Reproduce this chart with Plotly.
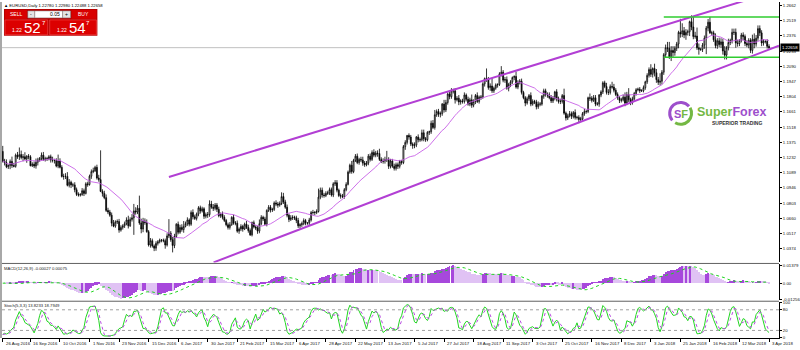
import math
import numpy as np
import pandas as pd
import plotly.graph_objects as go
from plotly.subplots import make_subplots

# ---------------- data ----------------
SYMBOL = "EURUSD,Daily"
START_DATE, END_DATE = "2016-08-26", "2018-04-03"
NO_BAR_DAYS = ["2017-12-25", "2018-01-01"]
FIRST_OPEN = 1.1290

CLOSE = [
    1.1198,
    1.1185, 1.1145, 1.1157, 1.1196, 1.1157,
    1.1150, 1.1255, 1.1240, 1.1260, 1.1232,
    1.1240, 1.1218, 1.1245, 1.1240, 1.1155,
    1.1170, 1.1153, 1.1188, 1.1208, 1.1225,
    1.1255, 1.1213, 1.1220, 1.1221, 1.1240,
    1.1210, 1.1206, 1.1206, 1.1152, 1.1200,
    1.1140, 1.1054, 1.1055, 1.1055, 1.0971,
    1.1000, 1.0975, 1.0975, 1.0930, 1.0885,
    1.0880, 1.0883, 1.0920, 1.0895, 1.0985,
    1.0978, 1.1057, 1.1100, 1.1107, 1.1140,
    1.1040, 1.1025, 1.0914, 1.0895, 1.0855,
    1.0735, 1.0720, 1.0690, 1.0615, 1.0587,
    1.0627, 1.0630, 1.0550, 1.0575, 1.0590,
    1.0610, 1.0645, 1.0590, 1.0650, 1.0665,
    1.0730, 1.0720, 1.0755, 1.0617, 1.0560,
    1.0635, 1.0620, 1.0535, 1.0410, 1.0450,
    1.0400, 1.0380, 1.0425, 1.0440, 1.0455,
    1.0455, 1.0450, 1.0410, 1.0495, 1.0520,
    1.0460, 1.0405, 1.0490, 1.0605, 1.0530,
    1.0575, 1.0555, 1.0585, 1.0610, 1.0645,
    1.0605, 1.0715, 1.0675, 1.0660, 1.0700,
    1.0760, 1.0730, 1.0750, 1.0680, 1.0695,
    1.0695, 1.0795, 1.0765, 1.0755, 1.0785,
    1.0745, 1.0685, 1.0700, 1.0670, 1.0640,
    1.0600, 1.0575, 1.0600, 1.0670, 1.0615,
    1.0615, 1.0540, 1.0560, 1.0585, 1.0560,
    1.0605, 1.0575, 1.0545, 1.0505, 1.0620,
    1.0580, 1.0570, 1.0540, 1.0610, 1.0670,
    1.0655, 1.0605, 1.0735, 1.0765, 1.0740,
    1.0745, 1.0805, 1.0795, 1.0785, 1.0800,
    1.0865, 1.0815, 1.0765, 1.0690, 1.0650,
    1.0665, 1.0670, 1.0665, 1.0640, 1.0590,
    1.0600, 1.0610, 1.0640, 1.0615, 1.0615,
    1.0645, 1.0715, 1.0715, 1.0715, 1.0725,
    1.0860, 1.0925, 1.0880, 1.0875, 1.0895,
    1.0900, 1.0930, 1.0880, 1.0985, 1.0995,
    1.0925, 1.0875, 1.0870, 1.0865, 1.0930,
    1.0980, 1.1095, 1.1160, 1.1100, 1.1205,
    1.1245, 1.1185, 1.1215, 1.1210, 1.1180,
    1.1165, 1.1180, 1.1245, 1.1215, 1.1280,
    1.1255, 1.1275, 1.1270, 1.1215, 1.1195,
    1.1200, 1.1210, 1.1215, 1.1150, 1.1200,
    1.1150, 1.1130, 1.1165, 1.1150, 1.1195,
    1.1185, 1.1335, 1.1375, 1.1440, 1.1425,
    1.1360, 1.1345, 1.1350, 1.1425, 1.1400,
    1.1400, 1.1465, 1.1410, 1.1400, 1.1470,
    1.1475, 1.1555, 1.1515, 1.1635, 1.1665,
    1.1640, 1.1645, 1.1735, 1.1680, 1.1750,
    1.1830, 1.1805, 1.1860, 1.1860, 1.1775,
    1.1790, 1.1755, 1.1765, 1.1760, 1.1820,
    1.1780, 1.1735, 1.1775, 1.1725, 1.1760,
    1.1815, 1.1760, 1.1800, 1.1800, 1.1925,
    1.1975, 1.1970, 1.1890, 1.1905, 1.1860,
    1.1885, 1.1915, 1.1920, 1.2020, 1.2035,
    1.1960, 1.1965, 1.1885, 1.1920, 1.1945,
    1.1985, 1.1995, 1.1895, 1.1940, 1.1950,
    1.1845, 1.1795, 1.1745, 1.1785, 1.1815,
    1.1735, 1.1760, 1.1755, 1.1710, 1.1735,
    1.1735, 1.1810, 1.1860, 1.1825, 1.1820,
    1.1795, 1.1765, 1.1790, 1.1850, 1.1785,
    1.1760, 1.1760, 1.1815, 1.1650, 1.1605,
    1.1625, 1.1645, 1.1620, 1.1655, 1.1610,
    1.1610, 1.1590, 1.1595, 1.1645, 1.1665,
    1.1665, 1.1795, 1.1790, 1.1770, 1.1795,
    1.1735, 1.1735, 1.1820, 1.1850, 1.1935,
    1.1900, 1.1845, 1.1845, 1.1900, 1.1895,
    1.1865, 1.1825, 1.1795, 1.1770, 1.1775,
    1.1800, 1.1745, 1.1825, 1.1775, 1.1750,
    1.1785, 1.1835, 1.1870, 1.1875, 1.1860,
    1.1860, 1.1890, 1.1945, 1.2005,
    1.2060, 1.2015, 1.2070, 1.2030,
    1.1965, 1.1940, 1.1950, 1.2035, 1.2200,
    1.2265, 1.2260, 1.2180, 1.2240, 1.2220,
    1.2260, 1.2300, 1.2410, 1.2395, 1.2425,
    1.2385, 1.2410, 1.2415, 1.2510, 1.2460,
    1.2370, 1.2375, 1.2265, 1.2250, 1.2250,
    1.2290, 1.2355, 1.2450, 1.2505, 1.2405,
    1.2405, 1.2340, 1.2285, 1.2330, 1.2295,
    1.2320, 1.2235, 1.2195, 1.2265, 1.2315,
    1.2335, 1.2410, 1.2410, 1.2310, 1.2305,
    1.2335, 1.2385, 1.2370, 1.2305, 1.2290,
    1.2335, 1.2240, 1.2345, 1.2300, 1.2355,
    1.2445, 1.2405, 1.2310, 1.2325, 1.2325,
    1.22780, 1.22658,
]

UPPER_WICK_PIPS = [
    52,
    22, 30, 12, 18, 45, 25, 15, 30, 67, 38, 25, 42, 10, 20, 15, 18, 25, 35, 22, 12,
    25, 30, 20, 18, 15, 20, 30, 15, 20, 60, 25, 20, 25, 30, 40, 30, 15, 20, 25, 20,
    20, 15, 25, 20, 15, 20, 15, 20, 30, 15, 25, 30, 275, 20, 25, 30, 25, 20, 25, 30,
    15, 20, 25, 20, 15, 20, 25, 40, 20, 35, 66, 35, 30, 119, 40, 30, 25, 30, 15, 25,
    20, 15, 20, 15, 15, 10, 15, 20, 25, 133, 20, 25, 25, 10, 25, 25, 30, 50, 20, 25,
    15, 20, 30, 20, 15, 15, 20, 20, 15, 20, 25, 35, 30, 30, 20, 20, 25, 15, 25, 20,
    15, 20, 25, 10, 25, 20, 25, 15, 20, 15, 15, 30, 25, 20, 10, 20, 15, 20, 40, 20,
    15, 20, 10, 20, 20, 15, 15, 25, 20, 20, 40, 35, 20, 25, 15, 25, 20, 15, 20, 25,
    15, 20, 20, 15, 10, 20, 15, 25, 15, 20, 80, 25, 25, 20, 20, 20, 20, 20, 15, 25,
    25, 15, 20, 20, 15, 20, 15, 15, 40, 15, 20, 25, 15, 25, 30, 20, 20, 20, 25, 20,
    30, 20, 25, 45, 20, 25, 30, 80, 20, 20, 20, 25, 20, 20, 15, 15, 15, 20, 5, 20,
    20, 15, 25, 10, 25, 20, 30, 30, 15, 10, 10, 25, 30, 45, 20, 25, 20, 10, 40, 25,
    15, 25, 25, 20, 25, 20, 30, 15, 20, 25, 15, 25, 20, 50, 20, 15, 30, 15, 20, 15,
    10, 95, 20, 25, 75, 15, 15, 10, 15, 57, 20, 25, 30, 15, 15, 10, 10, 45, 20, 20,
    25, 15, 15, 20, 15, 30, 20, 15, 20, 25, 20, 10, 20, 20, 20, 25, 25, 20, 10, 25,
    20, 25, 15, 65, 15, 20, 25, 20, 15, 30, 15, 20, 20, 15, 25, 15, 10, 40, 20, 25,
    25, 20, 10, 15, 15, 20, 35, 30, 20, 45, 30, 20, 20, 15, 20, 25, 45, 25, 60, 20,
    20, 15, 15, 15, 20,
    15, 20, 10, 20,
    20, 50, 10, 45,
    35, 25, 75, 20, 15, 30, 55, 60, 40, 40, 20, 20, 15, 127, 70, 35, 30, 20, 10, 60,
    100, 40, 80, 40, 15, 20, 25, 20, 30, 50, 20, 20, 60, 25, 30, 35, 30, 45, 15, 35,
    15, 35, 35, 36, 30, 10, 20, 25, 20, 30, 20, 20, 43, 55, 30, 30, 30, 25, 20, 10,
    20, 20,
]

LOWER_WICK_PIPS = [
    13,
    27, 13, 20, 34, 22, 10, 13, 20, 30, 17, 35, 8, 35, 25, 5, 12, 20, 25, 30, 15,
    20, 12, 18, 20, 15, 25, 20, 30, 12, 20, 10, 10, 30, 25, 10, 20, 30, 20, 25, 15,
    15, 15, 10, 25, 10, 20, 10, 25, 15, 10, 15, 20, 7, 30, 15, 15, 20, 15, 30, 10,
    15, 20, 25, 15, 20, 20, 15, 25, 10, 20, 160, 25, 20, 17, 40, 30, 20, 10, 15, 25,
    15, 28, 25, 20, 15, 20, 15, 35, 15, 20, 20, 65, 25, 15, 20, 15, 20, 30, 10, 20,
    20, 15, 25, 15, 20, 20, 25, 15, 25, 20, 30, 20, 15, 25, 20, 25, 15, 20, 20, 15,
    15, 20, 20, 10, 15, 20, 15, 25, 20, 25, 10, 15, 20, 10, 15, 15, 20, 25, 20, 15,
    20, 10, 20, 15, 25, 20, 15, 20, 25, 15, 15, 20, 15, 20, 25, 15, 20, 20, 25, 20,
    25, 20, 15, 20, 15, 20, 15, 20, 25, 15, 10, 20, 25, 20, 15, 15, 20, 15, 20, 20,
    20, 15, 25, 15, 20, 15, 10, 15, 20, 15, 15, 15, 20, 20, 25, 20, 15, 20, 20, 15,
    20, 20, 30, 15, 15, 20, 25, 20, 25, 20, 15, 20, 20, 25, 20, 20, 15, 30, 20, 25,
    20, 30, 25, 20, 25, 20, 15, 25, 20, 15, 25, 20, 15, 20, 20, 25, 30, 20, 25, 20,
    20, 25, 20, 25, 35, 15, 30, 25, 20, 20, 20, 15, 20, 25, 20, 25, 15, 20, 25, 15,
    25, 25, 20, 30, 20, 20, 15, 25, 15, 25, 20, 25, 15, 30, 25, 20, 25, 15, 20, 20,
    20, 15, 30, 15, 20, 20, 15, 20, 25, 20, 20, 15, 25, 20, 25, 15, 20, 20, 20, 25,
    20, 25, 20, 15, 25, 20, 15, 25, 20, 20, 20, 35, 20, 15, 20, 20, 15, 25, 20, 15,
    20, 15, 25, 20, 20, 15, 20, 25, 20, 15, 20, 15, 20, 25, 20, 15, 30, 20, 20, 25,
    20, 15, 20, 15, 20,
    10, 15, 20, 20,
    20, 25, 30, 35,
    30, 25, 30, 30, 25, 30, 35, 20, 40, 40, 30, 25, 40, 35, 30, 30, 45, 30, 40, 30,
    25, 20, 20, 50, 15, 25, 35, 150, 30, 10, 25, 20, 25, 30, 25, 30, 35, 40, 40, 25,
    25, 30, 25, 45, 30, 25, 20, 35, 25, 20, 30, 25, 30, 40, 25, 25, 30, 30, 25, 20,
    20, 17,
]

MA_PERIOD = 20
MACD_FAST, MACD_SLOW, MACD_SIGNAL = 12, 26, 9
STOCH_K, STOCH_D, STOCH_SLOW = 5, 3, 3
STOCH_LEVELS = [20, 80]

# drawn objects (bar index, price)
UPPER_TREND_X = [90.0, 420.4]
UPPER_TREND_Y = [1.1050, 1.2807]
LOWER_TREND_X = [114.2, 420.4]
LOWER_TREND_Y = [1.0246, 1.2284]
BOX_X = [358, 420.4]
BOX_TOP, BOX_BOTTOM = 1.2555, 1.2175

MAIN_TICKS = [1.2662, 1.2519, 1.2376, 1.2233, 1.2090, 1.1947, 1.1804, 1.1661,
              1.1518, 1.1375, 1.1232, 1.1089, 1.0946, 1.0803, 1.0660, 1.0517, 1.0374]
STOCH_TICKS = [0, 20, 80, 100]

LOT = "0.05"
SELL_QUOTE = ("1.22", "52", "7")
BUY_QUOTE = ("1.22", "54", "7")

# ---------------- derived series ----------------
close = np.array(CLOSE)
n = len(close)
idx = np.arange(n)
open_ = np.r_[FIRST_OPEN, close[:-1]]
high = np.maximum(open_, close) + np.array(UPPER_WICK_PIPS) / 1e4
low = np.minimum(open_, close) - np.array(LOWER_WICK_PIPS) / 1e4

dates = pd.bdate_range(START_DATE, END_DATE)
dates = dates[~dates.isin(pd.to_datetime(NO_BAR_DAYS))][:n]
tick_idx = [0] + list(range(15, n, 16))
tick_txt = [f"{dates[i].day} {dates[i].strftime('%b %Y')}" for i in tick_idx]

cs = pd.Series(close)
ma = cs.rolling(MA_PERIOD, min_periods=1).mean()
macd = cs.ewm(span=MACD_FAST, adjust=False).mean() - cs.ewm(span=MACD_SLOW, adjust=False).mean()
signal = macd.rolling(MACD_SIGNAL, min_periods=1).mean()
macd_col = ['#a748dc' if (i == 0 or macd[i] >= macd[i - 1]) else '#e0c2f4' for i in range(n)]

hs, ls = pd.Series(high), pd.Series(low)
ll = ls.rolling(STOCH_K, min_periods=1).min()
hh = hs.rolling(STOCH_K, min_periods=1).max()
stk = 100 * (cs - ll).rolling(STOCH_SLOW, min_periods=1).sum() / (hh - ll).rolling(STOCH_SLOW, min_periods=1).sum()
std = stk.rolling(STOCH_D, min_periods=1).mean()

# ---------------- figure ----------------
L_PX, R_PX, T_PX, B_PX = 2, 784, 0, 338


def px(x):
    return (x - L_PX) / (R_PX - L_PX)


def py(y):
    return (B_PX - y) / (B_PX - T_PX)


fig = make_subplots(rows=3, cols=1, shared_xaxes=True, vertical_spacing=0)

fig.add_trace(go.Candlestick(
    x=idx, open=open_, high=high, low=low, close=close,
    increasing=dict(line=dict(color='black', width=0.8), fillcolor='white'),
    decreasing=dict(line=dict(color='black', width=0.8), fillcolor='black'),
    whiskerwidth=0, hoverinfo='skip'), row=1, col=1)
fig.add_trace(go.Scatter(x=idx, y=ma, mode='lines', line=dict(color='#c760e6', width=0.9),
                         hoverinfo='skip'), row=1, col=1)
for tx, ty in [(UPPER_TREND_X, UPPER_TREND_Y), (LOWER_TREND_X, LOWER_TREND_Y)]:
    fig.add_trace(go.Scatter(x=tx, y=ty, mode='lines', line=dict(color='#b23fd4', width=2),
                             hoverinfo='skip'), row=1, col=1)
for level in (BOX_TOP, BOX_BOTTOM):
    fig.add_trace(go.Scatter(x=BOX_X, y=[level, level], mode='lines',
                             line=dict(color='#2fcc2f', width=1.5), hoverinfo='skip'), row=1, col=1)

fig.add_trace(go.Bar(x=idx, y=macd, marker=dict(color=macd_col, line=dict(width=0)),
                     width=0.45, hoverinfo='skip'), row=2, col=1)
fig.add_trace(go.Scatter(x=idx, y=signal, mode='lines', line=dict(color='#1ed41e', width=1, dash='dot'),
                         hoverinfo='skip'), row=2, col=1)

fig.add_trace(go.Scatter(x=idx, y=stk, mode='lines', line=dict(color='#22d422', width=1),
                         hoverinfo='skip'), row=3, col=1)
fig.add_trace(go.Scatter(x=idx, y=std, mode='lines', line=dict(color='#b84be0', width=1, dash='dot'),
                         hoverinfo='skip'), row=3, col=1)

FS = 4.3
axis_common = dict(showgrid=False, zeroline=False, showline=True, linecolor='black', linewidth=1,
                   ticks='outside', ticklen=2, tickcolor='black', side='right',
                   tickfont=dict(size=FS, color='#111'))

mlo, mhi = float(macd.min()) * 1.08, float(macd.max()) * 1.08
fig.update_layout(
    width=800, height=350,
    margin=dict(l=L_PX, r=800 - R_PX, t=T_PX, b=350 - B_PX),
    paper_bgcolor='white', plot_bgcolor='white',
    showlegend=False, hovermode=False, bargap=0,
    font=dict(family='Liberation Sans, Arial, sans-serif', size=FS, color='black'),
    xaxis=dict(range=[-0.4, 420.4], showgrid=False, zeroline=False, showticklabels=False,
               rangeslider=dict(visible=False)),
    xaxis2=dict(range=[-0.4, 420.4], showgrid=False, zeroline=False, showticklabels=False),
    xaxis3=dict(range=[-0.4, 420.4], showgrid=False, zeroline=False, showticklabels=False,
                showline=True, linecolor='black', linewidth=1, ticks='outside', ticklen=3,
                tickcolor='black', tickvals=tick_idx),
    yaxis=dict(domain=[py(262), 1], range=[1.02455, 1.26953], tickvals=MAIN_TICKS,
               ticktext=[f"{v:.4f}" for v in MAIN_TICKS], **axis_common),
    yaxis2=dict(domain=[py(300), py(264)], range=[mlo, mhi],
                tickvals=[mhi * 0.93, 0, mlo * 0.93],
                ticktext=[f"{mhi * 0.93:.5f}", "0.00", f"{mlo * 0.93:.5f}"], **axis_common),
    yaxis3=dict(domain=[0, py(302)], range=[-2, 102], tickvals=STOCH_TICKS,
                ticktext=[str(v) for v in STOCH_TICKS], **axis_common),
)

shapes = []
# current price line
shapes.append(dict(type='line', xref='paper', yref='y', x0=0, x1=1, y0=close[-1], y1=close[-1],
                   line=dict(color='#c0c0c0', width=1), layer='below'))
# stochastic levels
for lv in STOCH_LEVELS:
    shapes.append(dict(type='line', xref='paper', yref='y3', x0=0, x1=1, y0=lv, y1=lv,
                       line=dict(color='#a0a0a0', width=1, dash='dot')))
# panel separators and left border
for yy in (263, 301):
    shapes.append(dict(type='line', xref='paper', yref='paper', x0=px(1), x1=1, y0=py(yy), y1=py(yy),
                       line=dict(color='#606060', width=1)))
shapes.append(dict(type='line', xref='paper', yref='paper', x0=px(1), x1=px(1), y0=0, y1=1,
                   line=dict(color='#a8a8a8', width=2)))


def rect(x0, y0, x1, y1, fill, line=None, lw=0):
    return dict(type='rect', xref='paper', yref='paper', x0=px(x0), x1=px(x1), y0=py(y1), y1=py(y0),
                fillcolor=fill, line=dict(color=line or fill, width=lw), layer='above')


# one-click trading panel
shapes += [
    rect(4, 7, 98, 34, '#b40000'),
    rect(5, 8, 27, 17, '#d80000'),
    rect(28, 9, 35, 16, '#e4e4e4', '#808080', 0.5),
    rect(35, 9, 63, 16, '#ffffff', '#808080', 0.5),
    rect(63, 9, 71, 16, '#e4e4e4', '#808080', 0.5),
    rect(72, 8, 97, 17, '#d80000'),
    rect(5, 18, 48, 33, '#dc0000', '#ff6060', 0.5),
    rect(50, 18, 97, 33, '#dc0000', '#ff6060', 0.5),
]


def arc_path(cx, cy, r, a0, a1, nseg=4):
    step = (a1 - a0) / nseg
    t = math.radians(a0)
    d = f"M {px(cx + r * math.cos(t))},{py(cy + r * math.sin(t))}"
    for i in range(nseg):
        t0 = math.radians(a0 + i * step)
        t1 = math.radians(a0 + (i + 1) * step)
        k = 4 / 3 * math.tan((t1 - t0) / 4)
        x0, y0 = cx + r * math.cos(t0), cy + r * math.sin(t0)
        x3, y3 = cx + r * math.cos(t1), cy + r * math.sin(t1)
        x1, y1 = x0 - k * r * math.sin(t0), y0 + k * r * math.cos(t0)
        x2, y2 = x3 + k * r * math.sin(t1), y3 - k * r * math.cos(t1)
        d += f" C {px(x1)},{py(y1)} {px(x2)},{py(y2)} {px(x3)},{py(y3)}"
    return d


# logo ring
shapes.append(dict(type='path', xref='paper', yref='paper', path=arc_path(685, 112, 11, 330, 480),
                   line=dict(color='#74b843', width=3)))
shapes.append(dict(type='path', xref='paper', yref='paper', path=arc_path(685, 112, 11, 140, 320),
                   line=dict(color='#9d4fcc', width=3)))
fig.update_layout(shapes=shapes)

ann = []


def txt(x, y, s, size=FS, color='black', xa='left', ya='middle', xref='paper'):
    ann.append(dict(x=px(x) if xref == 'paper' else x, y=py(y), xref=xref, yref='paper', text=s,
                    showarrow=False, xanchor=xa, yanchor=ya, font=dict(size=size, color=color),
                    borderpad=0))


# header
txt(3, 4, f"▲ {SYMBOL} {open_[-1]:.5f} {high[-1]:.5f} {low[-1]:.5f} {close[-1]:.5f}", size=4.2)
# panel texts
txt(16, 12.5, "SELL", 5, 'white', 'center')
txt(31.5, 12.5, "-", 5, 'black', 'center')
txt(55, 12.5, LOT, 5, 'black', 'center')
txt(67, 12.5, "+", 5, 'black', 'center')
txt(84.5, 12.5, "BUY", 5, 'white', 'center')
for x0, q in [(11, SELL_QUOTE), (56, BUY_QUOTE)]:
    txt(x0, 28, q[0], 5, 'white')
    txt(x0 + 12, 26, q[1], 15, 'white')
    txt(x0 + 30, 21.5, q[2], 6, 'white')
# indicator titles
txt(3, 268, f"MACD({MACD_FAST},{MACD_SLOW},{MACD_SIGNAL}) {macd.iloc[-1]:.5f} {signal.iloc[-1]:.5f}", 4.2, '#222')
txt(3, 305, f"Stoch({STOCH_K},{STOCH_D},{STOCH_SLOW}) {stk.iloc[-1]:.4f} {std.iloc[-1]:.4f}", 4.2, '#222')
# logo
txt(685, 112.5, '<b><span style="color:#9d4fcc">S</span><span style="color:#74b843">F</span></b>', 11, 'black', 'center')
txt(700, 111, '<b><span style="color:#74b843">Super</span><span style="color:#9d4fcc">Forex</span></b>', 12.5)
txt(768, 121.5, '<b>SUPERIOR TRADING</b>', 5, '#333', 'right')
# date labels
for i, s in zip(tick_idx, tick_txt):
    ann.append(dict(x=i, y=py(343.5), xref='x3', yref='paper', text=s, showarrow=False,
                    xanchor='left', yanchor='middle', xshift=1, font=dict(size=FS, color='#111')))
# current price tag
ann.append(dict(x=1, y=close[-1], xref='paper', yref='y', text=f"{close[-1]:.5f}", showarrow=False,
                xanchor='left', yanchor='middle', bgcolor='black', font=dict(size=FS, color='white'),
                borderpad=1, xshift=1))
fig.update_layout(annotations=ann)

fig.write_html("out.html", config={'displayModeBar': False})
